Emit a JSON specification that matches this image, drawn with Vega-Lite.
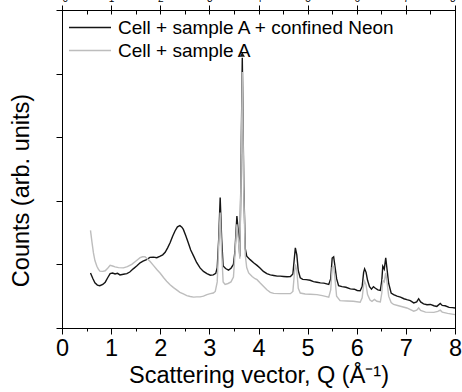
{
  "$schema": "https://vega.github.io/schema/vega-lite/v6.json",
  "width": 393,
  "height": 318,
  "autosize": "none",
  "padding": {"left": 62, "top": 10, "right": 7, "bottom": 64},
  "config": {
    "font": "Liberation Sans",
    "view": {"stroke": "#000", "strokeWidth": 1},
    "axis": {"domainColor": "#000", "tickColor": "#000", "labelColor": "#000", "titleColor": "#000", "grid": false, "labelFont": "Liberation Sans", "titleFont": "Liberation Sans", "titleFontWeight": "normal"}
  },
  "datasets": {
    "black": [
      {"q":0.58,"u":1.73},{"q":0.63,"u":1.55},{"q":0.67,"u":1.42},{"q":0.72,"u":1.35},{"q":0.77,"u":1.33},{"q":0.83,"u":1.37},{"q":0.88,"u":1.44},{"q":0.93,"u":1.58},{"q":0.98,"u":1.71},{"q":1.03,"u":1.73},{"q":1.08,"u":1.70},{"q":1.13,"u":1.72},{"q":1.18,"u":1.67},{"q":1.25,"u":1.69},{"q":1.32,"u":1.71},{"q":1.38,"u":1.76},{"q":1.45,"u":1.86},{"q":1.52,"u":1.95},{"q":1.59,"u":2.05},{"q":1.65,"u":2.10},{"q":1.72,"u":2.15},{"q":1.79,"u":2.22},{"q":1.86,"u":2.23},{"q":1.93,"u":2.21},{"q":2.00,"u":2.26},{"q":2.05,"u":2.30},{"q":2.10,"u":2.38},{"q":2.15,"u":2.52},{"q":2.20,"u":2.68},{"q":2.25,"u":2.88},{"q":2.30,"u":3.05},{"q":2.35,"u":3.18},{"q":2.40,"u":3.22},{"q":2.44,"u":3.17},{"q":2.47,"u":3.10},{"q":2.52,"u":2.90},{"q":2.57,"u":2.68},{"q":2.62,"u":2.45},{"q":2.68,"u":2.26},{"q":2.74,"u":2.06},{"q":2.81,"u":1.89},{"q":2.88,"u":1.78},{"q":2.95,"u":1.71},{"q":3.02,"u":1.66},{"q":3.08,"u":1.67},{"q":3.13,"u":1.72},{"q":3.16,"u":1.90},{"q":3.19,"u":2.80},{"q":3.22,"u":4.10},{"q":3.25,"u":2.80},{"q":3.28,"u":1.95},{"q":3.33,"u":1.87},{"q":3.39,"u":1.82},{"q":3.44,"u":1.88},{"q":3.49,"u":2.00},{"q":3.52,"u":2.40},{"q":3.56,"u":3.52},{"q":3.59,"u":3.00},{"q":3.62,"u":2.25},{"q":3.64,"u":4.50},{"q":3.67,"u":8.50},{"q":3.70,"u":4.50},{"q":3.73,"u":2.50},{"q":3.76,"u":2.26},{"q":3.83,"u":2.15},{"q":3.90,"u":2.05},{"q":3.97,"u":1.97},{"q":4.03,"u":1.89},{"q":4.10,"u":1.78},{"q":4.17,"u":1.71},{"q":4.24,"u":1.67},{"q":4.31,"u":1.65},{"q":4.38,"u":1.63},{"q":4.44,"u":1.63},{"q":4.51,"u":1.62},{"q":4.58,"u":1.61},{"q":4.65,"u":1.62},{"q":4.70,"u":1.70},{"q":4.73,"u":2.20},{"q":4.75,"u":2.52},{"q":4.78,"u":2.30},{"q":4.81,"u":1.80},{"q":4.85,"u":1.58},{"q":4.90,"u":1.53},{"q":4.97,"u":1.52},{"q":5.05,"u":1.50},{"q":5.12,"u":1.46},{"q":5.19,"u":1.44},{"q":5.26,"u":1.42},{"q":5.33,"u":1.41},{"q":5.43,"u":1.37},{"q":5.47,"u":1.55},{"q":5.50,"u":2.20},{"q":5.53,"u":2.24},{"q":5.56,"u":1.90},{"q":5.59,"u":1.55},{"q":5.63,"u":1.33},{"q":5.70,"u":1.30},{"q":5.78,"u":1.28},{"q":5.87,"u":1.23},{"q":5.95,"u":1.22},{"q":6.01,"u":1.18},{"q":6.07,"u":1.17},{"q":6.11,"u":1.30},{"q":6.14,"u":1.75},{"q":6.16,"u":1.86},{"q":6.19,"u":1.75},{"q":6.22,"u":1.50},{"q":6.26,"u":1.30},{"q":6.30,"u":1.22},{"q":6.34,"u":1.30},{"q":6.38,"u":1.25},{"q":6.43,"u":1.20},{"q":6.48,"u":1.18},{"q":6.51,"u":1.50},{"q":6.53,"u":1.94},{"q":6.56,"u":1.85},{"q":6.59,"u":2.21},{"q":6.62,"u":1.80},{"q":6.65,"u":1.40},{"q":6.70,"u":1.10},{"q":6.75,"u":1.05},{"q":6.82,"u":1.00},{"q":6.89,"u":0.97},{"q":6.96,"u":0.92},{"q":7.02,"u":0.89},{"q":7.09,"u":0.86},{"q":7.16,"u":0.79},{"q":7.22,"u":0.82},{"q":7.26,"u":0.92},{"q":7.30,"u":0.82},{"q":7.36,"u":0.76},{"q":7.43,"u":0.73},{"q":7.50,"u":0.74},{"q":7.57,"u":0.70},{"q":7.63,"u":0.68},{"q":7.70,"u":0.77},{"q":7.74,"u":0.71},{"q":7.80,"u":0.70},{"q":7.88,"u":0.65},{"q":7.95,"u":0.64},{"q":8.00,"u":0.63}
    ],
    "gray": [
      {"q":0.58,"u":3.07},{"q":0.61,"u":2.70},{"q":0.64,"u":2.36},{"q":0.67,"u":2.12},{"q":0.71,"u":1.94},{"q":0.74,"u":1.85},{"q":0.77,"u":1.79},{"q":0.83,"u":1.78},{"q":0.88,"u":1.80},{"q":0.93,"u":1.88},{"q":0.98,"u":1.97},{"q":1.03,"u":1.95},{"q":1.08,"u":1.92},{"q":1.15,"u":1.90},{"q":1.25,"u":1.89},{"q":1.33,"u":1.93},{"q":1.42,"u":2.00},{"q":1.50,"u":2.10},{"q":1.59,"u":2.21},{"q":1.64,"u":2.24},{"q":1.69,"u":2.24},{"q":1.74,"u":2.17},{"q":1.79,"u":2.10},{"q":1.86,"u":1.97},{"q":1.93,"u":1.84},{"q":2.00,"u":1.72},{"q":2.07,"u":1.58},{"q":2.13,"u":1.47},{"q":2.20,"u":1.36},{"q":2.27,"u":1.27},{"q":2.34,"u":1.19},{"q":2.40,"u":1.12},{"q":2.47,"u":1.07},{"q":2.54,"u":1.02},{"q":2.61,"u":0.99},{"q":2.68,"u":0.97},{"q":2.74,"u":0.98},{"q":2.81,"u":0.98},{"q":2.88,"u":1.00},{"q":2.95,"u":1.05},{"q":3.02,"u":1.08},{"q":3.08,"u":1.10},{"q":3.12,"u":1.15},{"q":3.16,"u":1.45},{"q":3.19,"u":2.60},{"q":3.22,"u":3.63},{"q":3.25,"u":2.40},{"q":3.28,"u":1.45},{"q":3.32,"u":1.37},{"q":3.38,"u":1.40},{"q":3.44,"u":1.45},{"q":3.49,"u":1.60},{"q":3.52,"u":2.30},{"q":3.56,"u":3.26},{"q":3.59,"u":2.80},{"q":3.62,"u":2.18},{"q":3.64,"u":4.30},{"q":3.67,"u":8.05},{"q":3.70,"u":4.30},{"q":3.73,"u":2.30},{"q":3.76,"u":1.90},{"q":3.80,"u":1.73},{"q":3.87,"u":1.62},{"q":3.93,"u":1.55},{"q":3.97,"u":1.52},{"q":4.03,"u":1.42},{"q":4.10,"u":1.31},{"q":4.17,"u":1.20},{"q":4.24,"u":1.12},{"q":4.31,"u":1.09},{"q":4.44,"u":1.08},{"q":4.55,"u":1.08},{"q":4.65,"u":1.08},{"q":4.70,"u":1.15},{"q":4.73,"u":1.70},{"q":4.75,"u":2.00},{"q":4.78,"u":1.80},{"q":4.81,"u":1.25},{"q":4.85,"u":1.10},{"q":4.95,"u":1.07},{"q":5.05,"u":1.06},{"q":5.19,"u":1.05},{"q":5.30,"u":1.02},{"q":5.43,"u":0.97},{"q":5.47,"u":1.20},{"q":5.50,"u":1.90},{"q":5.53,"u":1.94},{"q":5.56,"u":1.50},{"q":5.59,"u":1.00},{"q":5.66,"u":0.86},{"q":5.80,"u":0.85},{"q":5.93,"u":0.84},{"q":6.07,"u":0.81},{"q":6.11,"u":0.95},{"q":6.14,"u":1.35},{"q":6.16,"u":1.47},{"q":6.19,"u":1.35},{"q":6.22,"u":1.05},{"q":6.27,"u":0.88},{"q":6.31,"u":0.84},{"q":6.36,"u":0.90},{"q":6.41,"u":0.84},{"q":6.48,"u":0.82},{"q":6.51,"u":1.10},{"q":6.53,"u":1.50},{"q":6.56,"u":1.45},{"q":6.59,"u":1.73},{"q":6.62,"u":1.40},{"q":6.65,"u":1.00},{"q":6.70,"u":0.80},{"q":6.75,"u":0.74},{"q":6.85,"u":0.70},{"q":7.02,"u":0.63},{"q":7.16,"u":0.53},{"q":7.22,"u":0.56},{"q":7.26,"u":0.63},{"q":7.30,"u":0.55},{"q":7.40,"u":0.50},{"q":7.57,"u":0.49},{"q":7.65,"u":0.52},{"q":7.70,"u":0.56},{"q":7.74,"u":0.50},{"q":7.85,"u":0.46},{"q":8.00,"u":0.42}
    ],
    "arrow": [{"q":3.67,"u":8.6}]
  },
  "layer": [
    {
      "data": {"name": "black"},
      "transform": [{"calculate": "'Cell + sample A + confined Neon'", "as": "series"}],
      "mark": {"type": "line", "strokeWidth": 1.4, "interpolate": "linear"},
      "encoding": {
        "x": {"field": "q", "type": "quantitative", "scale": {"domain": [0, 8], "nice": false, "zero": false},
          "axis": {"orient": "bottom", "title": "Scattering vector, Q (Å⁻¹)", "values": [0,0.5,1,1.5,2,2.5,3,3.5,4,4.5,5,5.5,6,6.5,7,7.5,8],
            "labelExpr": "datum.value % 1 === 0 ? format(datum.value, 'd') : ''", "tickSize": {"condition": {"test": "datum.value % 1 === 0", "value": 6}, "value": 3},
            "labelFontSize": 23.5, "titleFontSize": 23.5, "labelPadding": 2, "titlePadding": 4, "labelFlush": false, "labelOverlap": false}},
        "y": {"field": "u", "type": "quantitative", "scale": {"domain": [0, 10], "nice": false},
          "axis": {"title": "Counts (arb. units)", "values": [0,1,2,3,4,5,6,7,8,9,10], "labels": false,
            "tickSize": {"condition": {"test": "datum.value % 2 === 0", "value": 6}, "value": 4},
            "titleFontSize": 23.5, "titlePadding": 22, "titleY": 180}},
        "color": {"field": "series", "type": "nominal",
          "scale": {"domain": ["Cell + sample A + confined Neon", "Cell + sample A"], "range": ["#151515", "#bdbdbd"]},
          "legend": {"title": null, "orient": "top-left", "offset": 6, "padding": 0, "symbolType": "stroke", "symbolSize": 1764, "symbolStrokeWidth": 1.5, "clipHeight": 23, "labelFontSize": 19, "labelOffset": 6, "labelLimit": 400, "labelFont": "Liberation Sans", "labelColor": "#000", "rowPadding": 0}}
      }
    },
    {
      "data": {"name": "gray"},
      "transform": [{"calculate": "'Cell + sample A'", "as": "series"}],
      "mark": {"type": "line", "strokeWidth": 1.4},
      "encoding": {
        "x": {"field": "q", "type": "quantitative"},
        "y": {"field": "u", "type": "quantitative"},
        "color": {"field": "series", "type": "nominal"}
      }
    },
    {
      "data": {"name": "arrow"},
      "mark": {"type": "point", "shape": "triangle-up", "filled": true, "size": 28, "color": "#151515", "opacity": 1},
      "encoding": {
        "x": {"field": "q", "type": "quantitative",
          "axis": {"orient": "top", "title": null, "labelExpr": "''", "labelFontSize": 1, "values": [0,0.5,1,1.5,2,2.5,3,3.5,4,4.5,5,5.5,6,6.5,7,7.5,8], "tickSize": -4, "tickColor": "#000", "domainColor": "#000"}},
        "y": {"field": "u", "type": "quantitative"}
      }
    }
  ],
  "resolve": {"axis": {"x": "independent"}}
}
